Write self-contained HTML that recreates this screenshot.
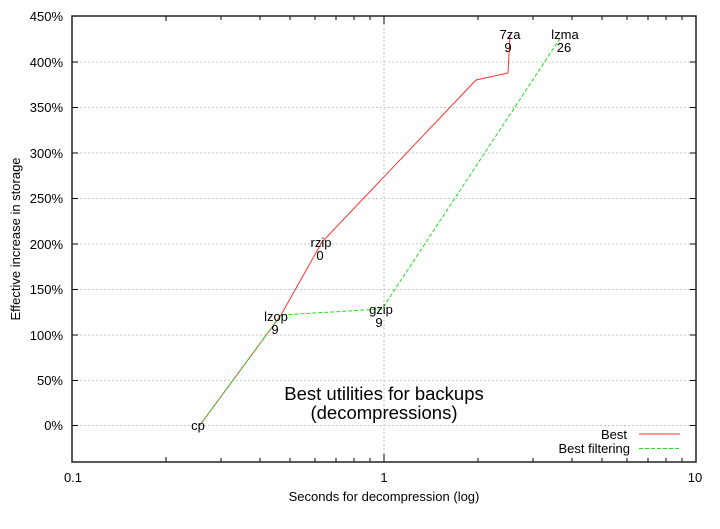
<!DOCTYPE html>
<html><head><style>body{margin:0;background:#fff}svg{display:block}</style></head><body>
<svg width="720" height="529" xmlns="http://www.w3.org/2000/svg" font-family="Liberation Sans, sans-serif" font-size="13">
<g stroke="#c8c8c8" stroke-dasharray="2,2" stroke-width="1">
<line x1="72" y1="62" x2="696" y2="62"/><line x1="72" y1="107.5" x2="696" y2="107.5"/><line x1="72" y1="153" x2="696" y2="153"/><line x1="72" y1="198.5" x2="696" y2="198.5"/><line x1="72" y1="244" x2="696" y2="244"/><line x1="72" y1="289.5" x2="696" y2="289.5"/><line x1="72" y1="335" x2="696" y2="335"/><line x1="72" y1="380.5" x2="696" y2="380.5"/><line x1="72" y1="425.5" x2="696" y2="425.5"/>
<line x1="384" y1="16" x2="384" y2="462"/>
</g>
<g stroke="#000" stroke-width="1">
<path d="M166,462v-5M221,462v-4M260,462v-4M290,462v-4M315,462v-4M336,462v-4M354,462v-4M370,462v-4M384,462v-8M478,462v-4M533,462v-4M572,462v-4M602,462v-4M627,462v-4M648,462v-4M666,462v-4M682,462v-4"/>
<path d="M166,16v5M221,16v4M260,16v4M290,16v4M315,16v4M336,16v4M354,16v4M370,16v4M384,16v8M478,16v4M533,16v4M572,16v4M602,16v4M627,16v4M648,16v4M666,16v4M682,16v4"/>
<path d="M72,62h6M72,107.5h6M72,153h6M72,198.5h6M72,244h6M72,289.5h6M72,335h6M72,380.5h6M72,425.5h6"/>
<path d="M696,62h-6M696,107.5h-6M696,153h-6M696,198.5h-6M696,244h-6M696,289.5h-6M696,335h-6M696,380.5h-6M696,425.5h-6"/>
</g>
<rect x="72" y="16" width="624" height="446" fill="none" stroke="#222" stroke-width="1.5"/>
<g text-anchor="end">
<text x="63" y="21">450%</text><text x="63" y="67">400%</text><text x="63" y="112">350%</text><text x="63" y="158">300%</text><text x="63" y="203">250%</text><text x="63" y="249">200%</text><text x="63" y="294">150%</text><text x="63" y="340">100%</text><text x="63" y="385">50%</text><text x="63" y="430">0%</text>
</g>
<g text-anchor="middle">
<text x="73" y="482">0.1</text><text x="384" y="482">1</text><text x="695" y="482">10</text>
<text x="384" y="501">Seconds for decompression (log)</text>
<text transform="translate(20,239) rotate(-90)">Effective increase in storage</text>
<text x="384" y="400" font-size="18.5">Best utilities for backups</text>
<text x="384" y="419" font-size="18.5">(decompressions)</text>
</g>
<polyline fill="none" stroke="#ff3030" stroke-width="1" points="200,425 281,315 322,242 476,80 508,73 510,35"/>
<polyline fill="none" stroke="#22dd22" stroke-width="1" stroke-dasharray="4,2" points="200,425 281,315 382,309 561,37"/>
<g text-anchor="middle">
<text x="198" y="430">cp</text>
<text x="276" y="321">lzop</text><text x="275" y="334">9</text>
<text x="321" y="247">rzip</text><text x="320" y="260">0</text>
<text x="381" y="314">gzip</text><text x="379" y="327">9</text>
<text x="510" y="39">7za</text><text x="508" y="52">9</text>
<text x="565" y="39">lzma</text><text x="564" y="52">26</text>
</g>
<g text-anchor="end">
<text x="627" y="439">Best</text><text x="630" y="453">Best filtering</text>
</g>
<line x1="639" y1="434" x2="680" y2="434" stroke="#ff3030"/>
<line x1="639" y1="448.5" x2="680" y2="448.5" stroke="#22dd22" stroke-dasharray="4,2"/>
</svg>
</body></html>
